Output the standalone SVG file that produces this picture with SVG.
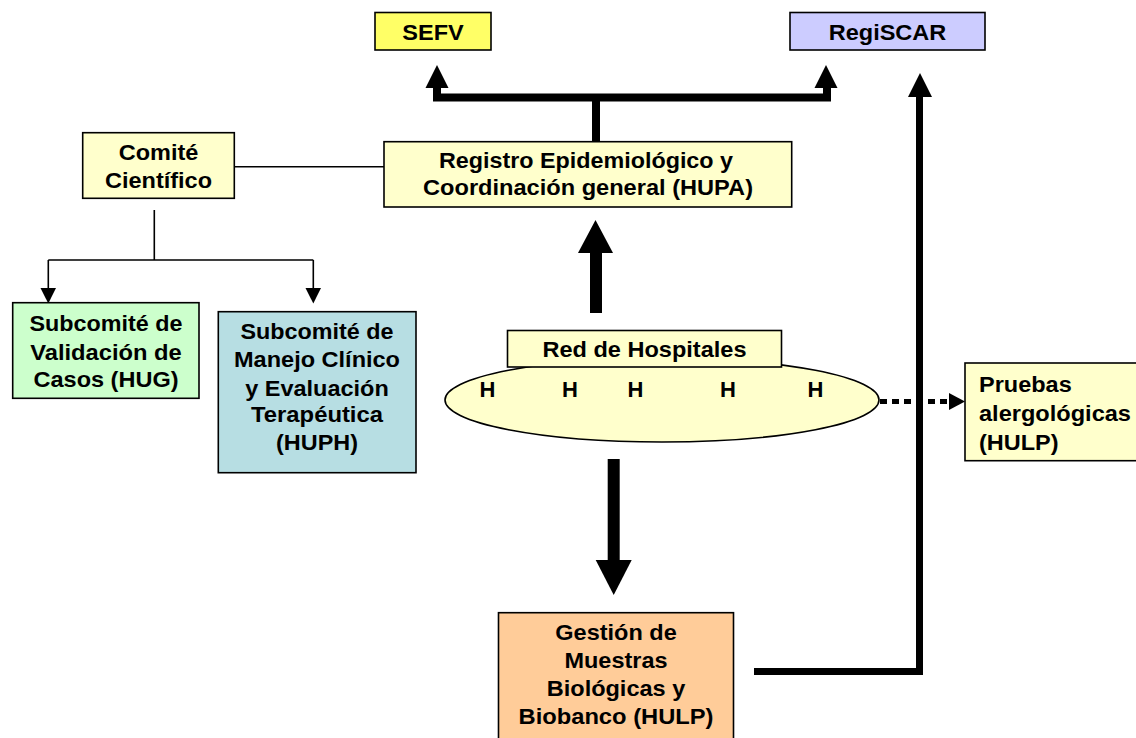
<svg xmlns="http://www.w3.org/2000/svg" width="1136" height="738" viewBox="0 0 1136 738">
<style>
.box{stroke:#000;stroke-width:1.6}
.t{font-family:"Liberation Sans",Arial,sans-serif;font-weight:bold;font-size:22px;fill:#000;text-anchor:middle}
.l{text-anchor:start}
.thin{fill:none;stroke:#000;stroke-width:1.6}
.thick{fill:none;stroke:#000;stroke-width:8;stroke-linejoin:miter}
.head{fill:#000}
</style>
<rect width="1136" height="738" fill="#fff"/>
<g id="connectors">
  <line class="thin" x1="234" y1="166.7" x2="384" y2="166.7"/>
  <path class="thin" d="M154.3,210 V260 M48.3,260 H313.3 M48.3,260 V289 M313.3,260 V289"/>
  <polygon class="head" points="40.5,288 56,288 48.3,303.5"/>
  <polygon class="head" points="305.5,288 321,288 313.3,303.5"/>
  <path class="thick" d="M437,86 V97.5 H827 V86"/>
  <line class="thick" x1="596" y1="97.5" x2="596" y2="142"/>
  <polygon class="head" points="437,65 425.5,88 448.5,88"/>
  <polygon class="head" points="826,65 814.5,88 837.5,88"/>
  <rect x="590" y="252" width="12" height="61" class="head"/>
  <polygon class="head" points="595.5,220 578,253 613,253"/>
  <rect x="607.7" y="459" width="12" height="102" class="head"/>
  <polygon class="head" points="595.7,560 631.7,560 613.7,595"/>
  <path d="M754,671.5 H919.5 V95" fill="none" stroke="#000" stroke-width="7"/>
  <polygon class="head" points="920,73 908,97 932,97"/>
  <line x1="880" y1="401.5" x2="951" y2="401.5" stroke="#000" stroke-width="5" stroke-dasharray="7 5"/>
  <polygon class="head" points="949,393 965,401.5 949,410"/>
</g>
<g id="sefv">
  <rect class="box" x="375" y="12.5" width="116" height="37.5" fill="#ffff66"/>
  <text class="t" x="433" y="39.5" textLength="61.4" lengthAdjust="spacingAndGlyphs">SEFV</text>
</g>
<g id="regiscar">
  <rect class="box" x="790" y="12.5" width="195" height="37.5" fill="#ccccff"/>
  <text class="t" x="887.5" y="39.5" textLength="117.5" lengthAdjust="spacingAndGlyphs">RegiSCAR</text>
</g>
<g id="registro">
  <rect class="box" x="384" y="141.7" width="407.7" height="65.3" fill="#ffffcc"/>
  <text class="t" x="586" y="168" textLength="294" lengthAdjust="spacingAndGlyphs">Registro Epidemiológico y</text>
  <text class="t" x="588" y="194.5" textLength="330" lengthAdjust="spacingAndGlyphs">Coordinación general (HUPA)</text>
</g>
<g id="comite">
  <rect class="box" x="82.7" y="132.7" width="151.6" height="65.6" fill="#ffffcc"/>
  <text class="t" x="158.5" y="159.5" textLength="79.6" lengthAdjust="spacingAndGlyphs">Comité</text>
  <text class="t" x="158.5" y="188" textLength="107" lengthAdjust="spacingAndGlyphs">Científico</text>
</g>
<g id="validacion">
  <rect class="box" x="12.7" y="302.7" width="186.3" height="95.6" fill="#ccffcc"/>
  <text class="t" x="106" y="331" textLength="153" lengthAdjust="spacingAndGlyphs">Subcomité de</text>
  <text class="t" x="106" y="359.5" textLength="151.5" lengthAdjust="spacingAndGlyphs">Validación de</text>
  <text class="t" x="106" y="387" textLength="145" lengthAdjust="spacingAndGlyphs">Casos (HUG)</text>
</g>
<g id="manejo">
  <rect class="box" x="218.3" y="311.7" width="197.7" height="161" fill="#b7dee3"/>
  <text class="t" x="317" y="338.5" textLength="153" lengthAdjust="spacingAndGlyphs">Subcomité de</text>
  <text class="t" x="317" y="367" textLength="166" lengthAdjust="spacingAndGlyphs">Manejo Clínico</text>
  <text class="t" x="317" y="396" textLength="143.6" lengthAdjust="spacingAndGlyphs">y Evaluación</text>
  <text class="t" x="317" y="422" textLength="132" lengthAdjust="spacingAndGlyphs">Terapéutica</text>
  <text class="t" x="317" y="450" textLength="82" lengthAdjust="spacingAndGlyphs">(HUPH)</text>
</g>
<g id="red-hospitales">
  <ellipse class="box" cx="662" cy="400" rx="217" ry="42" fill="#ffffcc"/>
  <rect class="box" x="507.5" y="330.5" width="274" height="36.5" fill="#ffffcc"/>
  <text class="t" x="644.5" y="357" textLength="204" lengthAdjust="spacingAndGlyphs">Red de Hospitales</text>
  <text class="t" x="487.5" y="397">H</text>
  <text class="t" x="570" y="397">H</text>
  <text class="t" x="635.5" y="397">H</text>
  <text class="t" x="728" y="397">H</text>
  <text class="t" x="815.5" y="397">H</text>
</g>
<g id="pruebas">
  <rect class="box" x="965" y="363" width="185" height="97.7" fill="#ffffcc"/>
  <text class="t l" x="979" y="392" textLength="92.7" lengthAdjust="spacingAndGlyphs">Pruebas</text>
  <text class="t l" x="979" y="421" textLength="152" lengthAdjust="spacingAndGlyphs">alergológicas</text>
  <text class="t l" x="979" y="450" textLength="79.6" lengthAdjust="spacingAndGlyphs">(HULP)</text>
</g>
<g id="gestion">
  <rect class="box" x="498.5" y="612.7" width="235" height="135" fill="#ffcc99"/>
  <text class="t" x="616" y="640" textLength="121.4" lengthAdjust="spacingAndGlyphs">Gestión de</text>
  <text class="t" x="616" y="668" textLength="103" lengthAdjust="spacingAndGlyphs">Muestras</text>
  <text class="t" x="616" y="696" textLength="138.4" lengthAdjust="spacingAndGlyphs">Biológicas y</text>
  <text class="t" x="616" y="723.5" textLength="195" lengthAdjust="spacingAndGlyphs">Biobanco (HULP)</text>
</g>
</svg>
